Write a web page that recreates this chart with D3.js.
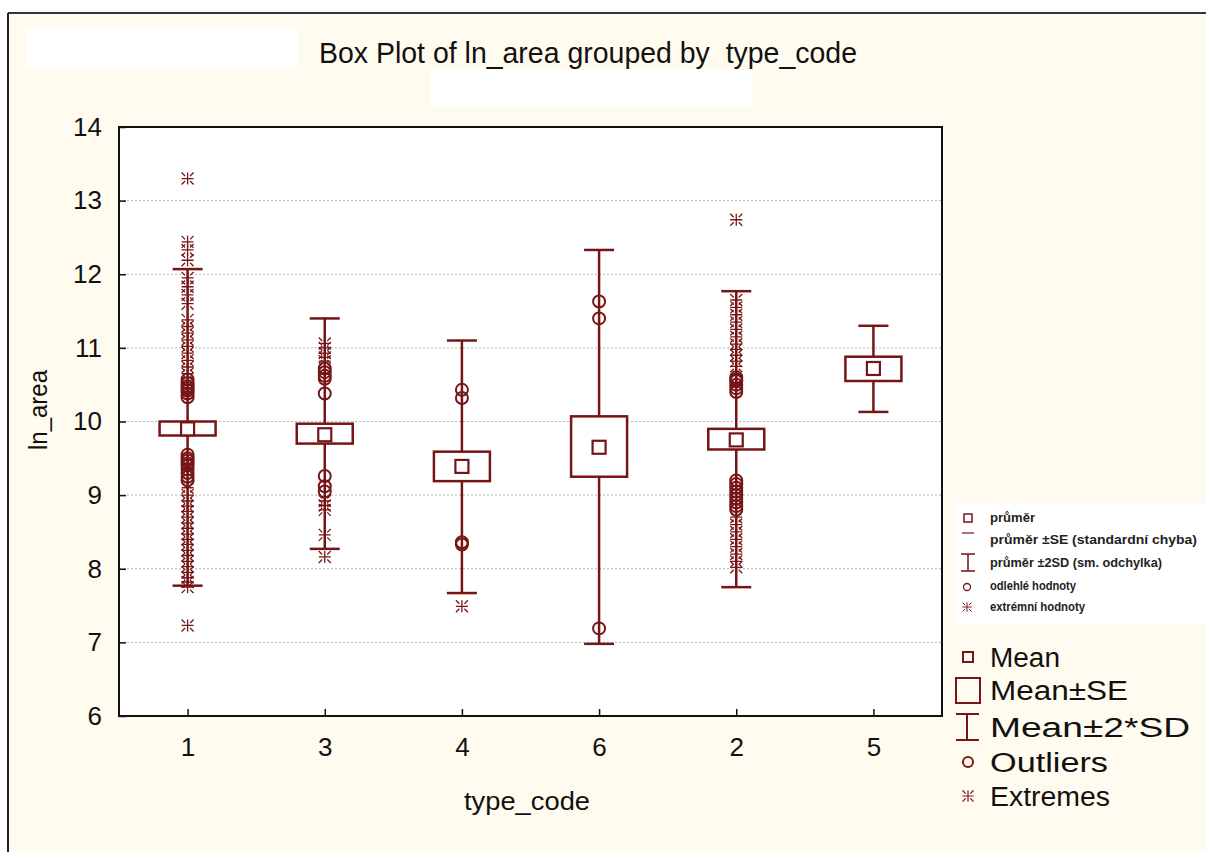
<!DOCTYPE html>
<html lang="en">
<head>
<meta charset="UTF-8">
<title>Box Plot of ln_area grouped by type_code</title>
<style>
  body { margin: 0; background: #ffffff; }
  svg { display: block; font-family: "Liberation Sans", Arial, sans-serif; }
  .grid line { stroke: #b4b4b4; stroke-dasharray: 2,2; stroke-width: 1; }
  .axis text { font-size: 26px; fill: #111; }
  .axis path { display: none; }
  .axis line { stroke: #111; stroke-width: 1.5; }
</style>
</head>
<body>
<svg id="chart" width="1206" height="852"></svg>
<script src="https://cdnjs.cloudflare.com/ajax/libs/d3/7.8.5/d3.min.js"></script>
<script>
// values
var categories = ["1", "3", "4", "6", "2", "5"];
var means  = [9.90, 9.82, 9.39, 9.65, 9.75, 10.72];
var seLow  = [9.81, 9.70, 9.19, 9.25, 9.62, 10.55];
var seHigh = [10.00, 9.97, 9.59, 10.07, 9.90, 10.88];
var sdLow  = [7.77, 8.27, 7.67, 6.98, 7.75, 10.13];
var sdHigh = [12.07, 11.40, 11.10, 12.33, 11.77, 11.30];
var outliers = [
  [10.57, 10.52, 10.48, 10.45, 10.42, 10.38, 10.33, 9.55, 9.50, 9.47, 9.43, 9.40, 9.35, 9.30, 9.25, 9.20],
  [10.72, 10.67, 10.62, 10.58, 10.38, 9.26, 9.12, 9.05],
  [10.43, 10.32, 8.36, 8.33],
  [11.63, 11.40, 7.19],
  [10.60, 10.57, 10.55, 10.50, 10.45, 10.40, 9.20, 9.15, 9.10, 9.05, 9.00, 8.95, 8.90, 8.85, 8.80],
  []
];
var extremes = [
  [13.30, 12.44, 12.33, 12.19, 11.95, 11.83, 11.72, 11.60, 11.38, 11.29, 11.20, 11.11, 11.02, 10.93, 10.83, 10.74, 10.65,
   9.10, 9.00, 8.92, 8.85, 8.78, 8.70, 8.62, 8.55, 8.47, 8.40, 8.33, 8.25, 8.18, 8.10, 8.03, 7.95, 7.88, 7.82, 7.75, 7.23],
  [11.06, 11.00, 10.93, 10.87, 10.82, 8.92, 8.86, 8.80, 8.46, 8.16],
  [7.49],
  [],
  [12.74, 11.65, 11.55, 11.45, 11.35, 11.25, 11.15, 11.05, 10.98, 10.90, 10.82, 10.75,
   8.70, 8.60, 8.50, 8.40, 8.30, 8.20, 8.10, 8.02],
  []
];
var yTicks = [6, 7, 8, 9, 10, 11, 12, 13, 14];
var legendCz = ["průměr", "průměr ±SE (standardní chyba)", "průměr ±2SD (sm. odchylka)", "odlehlé hodnoty", "extrémní hodnoty"];
var legendEn = ["Mean", "Mean±SE", "Mean±2*SD", "Outliers", "Extremes"];

var col = "#761516";
var plot = { left: 119, right: 942, top: 127, bottom: 716 };

var svg = d3.select("#chart");

// page background and frame
svg.append("rect").attr("x", 8).attr("y", 13).attr("width", 1198).attr("height", 839).attr("fill", "#fffbef");
svg.append("rect").attr("x", 26).attr("y", 28).attr("width", 272).attr("height", 40).attr("fill", "#fffffd");
svg.append("rect").attr("x", 430).attr("y", 70).attr("width", 322).attr("height", 36).attr("fill", "#fffffd");
svg.append("line").attr("x1", 8).attr("x2", 1206).attr("y1", 13).attr("y2", 13).attr("stroke", "#333").attr("stroke-width", 2);
svg.append("line").attr("x1", 8).attr("x2", 8).attr("y1", 13).attr("y2", 852).attr("stroke", "#222").attr("stroke-width", 2);

var x = d3.scalePoint().domain(categories).range([plot.left, plot.right]).padding(0.5);
var y = d3.scaleLinear().domain([6, 14]).range([plot.bottom, plot.top]);

svg.append("rect")
  .attr("x", plot.left).attr("y", plot.top)
  .attr("width", plot.right - plot.left).attr("height", plot.bottom - plot.top)
  .attr("fill", "#fff");

// grid
svg.append("g").attr("class", "grid")
  .selectAll("line").data(yTicks.slice(1, -1)).enter().append("line")
  .attr("x1", plot.left).attr("x2", plot.right)
  .attr("y1", function(d) { return y(d); }).attr("y2", function(d) { return y(d); });

// axes (ticks pointing inward)
var yAxis = d3.axisLeft(y).tickValues(yTicks).tickSize(-7).tickPadding(17);
svg.append("g").attr("class", "axis")
  .attr("transform", "translate(" + plot.left + ",0)")
  .call(yAxis);

var xAxis = d3.axisBottom(x).tickSize(-7).tickPadding(22);
svg.append("g").attr("class", "axis")
  .attr("transform", "translate(0," + plot.bottom + ")")
  .call(xAxis);

svg.append("rect")
  .attr("x", plot.left).attr("y", plot.top)
  .attr("width", plot.right - plot.left).attr("height", plot.bottom - plot.top)
  .attr("fill", "none").attr("stroke", "#111").attr("stroke-width", 2);

// title and axis labels
svg.append("text").attr("x", 588).attr("y", 63).attr("text-anchor", "middle")
  .attr("textLength", 538).attr("lengthAdjust", "spacingAndGlyphs")
  .style("font-size", "29px").style("fill", "#111").style("white-space", "pre")
  .text("Box Plot of ln_area grouped by  type_code");
svg.append("text").attr("x", 527).attr("y", 810).attr("text-anchor", "middle")
  .attr("textLength", 126).attr("lengthAdjust", "spacingAndGlyphs")
  .style("font-size", "26px").style("fill", "#111").text("type_code");
svg.append("text").attr("transform", "translate(47,410) rotate(-90)").attr("text-anchor", "middle")
  .attr("textLength", 80).attr("lengthAdjust", "spacingAndGlyphs")
  .style("font-size", "26px").style("fill", "#111").text("ln_area");

function asterisk(s) {
  var d = s * 0.42;
  return "M0," + (-s) + "V" + s + "M" + (-s) + ",0H" + s +
    "M" + (-s) + "," + (-s) + "L" + (-d) + "," + (-d) + "M" + s + "," + (-s) + "L" + d + "," + (-d) +
    "M" + (-s) + "," + s + "L" + (-d) + "," + d + "M" + s + "," + s + "L" + d + "," + d;
}

var boxW = 56, capW = 30, meanW = 13;
var groups = svg.append("g").selectAll("g").data(categories).enter().append("g")
  .attr("transform", function(d) { return "translate(" + x(d) + ",0)"; });

groups.append("line")
  .attr("y1", function(d, i) { return y(sdHigh[i]); })
  .attr("y2", function(d, i) { return y(sdLow[i]); })
  .attr("stroke", col).attr("stroke-width", 2.5);
groups.selectAll(".cap").data(function(d, i) { return [sdHigh[i], sdLow[i]]; }).enter().append("line")
  .attr("x1", -capW / 2).attr("x2", capW / 2)
  .attr("y1", function(v) { return y(v); }).attr("y2", function(v) { return y(v); })
  .attr("stroke", col).attr("stroke-width", 2.5);

groups.selectAll(".ext").data(function(d, i) { return extremes[i]; }).enter().append("path")
  .attr("transform", function(v) { return "translate(0," + y(v) + ")"; })
  .attr("d", asterisk(6)).attr("fill", "none").attr("stroke", col).attr("stroke-width", 1.3);

groups.selectAll(".out").data(function(d, i) { return outliers[i]; }).enter().append("circle")
  .attr("cy", function(v) { return y(v); }).attr("r", 6)
  .attr("fill", "none").attr("stroke", col).attr("stroke-width", 2);

groups.append("rect")
  .attr("x", -boxW / 2).attr("width", boxW)
  .attr("y", function(d, i) { return y(seHigh[i]); })
  .attr("height", function(d, i) { return y(seLow[i]) - y(seHigh[i]); })
  .attr("fill", "#fff").attr("stroke", col).attr("stroke-width", 2.5);
groups.append("rect")
  .attr("x", -meanW / 2).attr("width", meanW)
  .attr("y", function(d, i) { return y(means[i]) - meanW / 2; }).attr("height", meanW)
  .attr("fill", "#fff").attr("stroke", col).attr("stroke-width", 2.2);

// small Czech legend
var lg1 = svg.append("g");
lg1.append("rect").attr("x", 955).attr("y", 503).attr("width", 251).attr("height", 122).attr("fill", "#fff");
var ly1 = [518, 540, 563, 586, 607];
lg1.selectAll("text").data(legendCz).enter().append("text")
  .attr("x", 990).attr("y", function(d, i) { return ly1[i] + 4; })
  .attr("textLength", function(d, i) { return [45, 207, 172, 86, 95][i]; })
  .attr("lengthAdjust", "spacingAndGlyphs")
  .style("font-size", "12px").style("font-weight", "bold").style("fill", "#222")
  .text(function(d) { return d; });
lg1.append("rect").attr("x", 964).attr("y", ly1[0] - 4).attr("width", 8).attr("height", 8)
  .attr("fill", "none").attr("stroke", col).attr("stroke-width", 1.5);
lg1.append("line").attr("x1", 962).attr("x2", 974).attr("y1", ly1[1] - 7).attr("y2", ly1[1] - 7)
  .attr("stroke", col).attr("stroke-width", 1.2);
lg1.append("path").attr("d", "M961," + (ly1[2] - 9) + "H975M968," + (ly1[2] - 9) + "V" + (ly1[2] + 8) + "M961," + (ly1[2] + 8) + "H975")
  .attr("fill", "none").attr("stroke", col).attr("stroke-width", 1.5);
lg1.append("circle").attr("cx", 967).attr("cy", ly1[3] + 1).attr("r", 3.5)
  .attr("fill", "none").attr("stroke", col).attr("stroke-width", 1.3);
lg1.append("path").attr("transform", "translate(967," + (ly1[4]) + ")").attr("d", asterisk(4.5))
  .attr("fill", "none").attr("stroke", col).attr("stroke-width", 1);

// large legend
var ly2 = [657, 690, 727, 762, 796];
var lg2 = svg.append("g");
lg2.selectAll("text").data(legendEn).enter().append("text")
  .attr("x", 990).attr("y", function(d, i) { return ly2[i] + 10; })
  .attr("textLength", function(d, i) { return [70, 138, 200, 118, 120][i]; })
  .attr("lengthAdjust", "spacingAndGlyphs")
  .style("font-size", "27px").style("fill", "#111")
  .text(function(d) { return d; });
lg2.append("rect").attr("x", 963).attr("y", ly2[0] - 5).attr("width", 10).attr("height", 10)
  .attr("fill", "none").attr("stroke", col).attr("stroke-width", 2);
lg2.append("rect").attr("x", 956).attr("y", ly2[1] - 12).attr("width", 24).attr("height", 25)
  .attr("fill", "none").attr("stroke", col).attr("stroke-width", 2);
lg2.append("path").attr("d", "M956," + (ly2[2] - 13) + "H979M967," + (ly2[2] - 13) + "V" + (ly2[2] + 13) + "M956," + (ly2[2] + 13) + "H979")
  .attr("fill", "none").attr("stroke", col).attr("stroke-width", 2);
lg2.append("circle").attr("cx", 968).attr("cy", ly2[3]).attr("r", 5)
  .attr("fill", "none").attr("stroke", col).attr("stroke-width", 2);
lg2.append("path").attr("transform", "translate(968," + ly2[4] + ")").attr("d", asterisk(5.5))
  .attr("fill", "none").attr("stroke", col).attr("stroke-width", 1.2);
</script>
</body>
</html>
